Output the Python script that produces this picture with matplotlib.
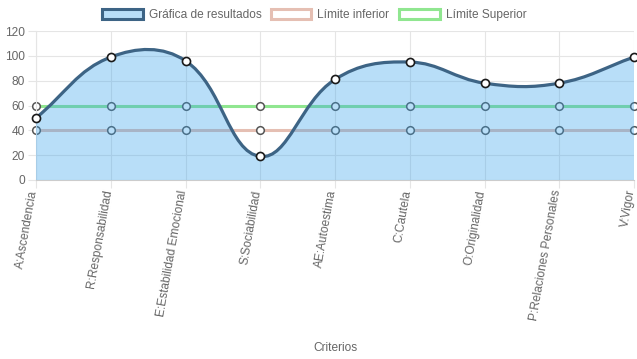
import matplotlib.pyplot as plt
import numpy as np
from matplotlib.path import Path
from matplotlib.patches import PathPatch, Patch
from matplotlib.transforms import ScaledTranslation

plt.rcParams['font.family'] = ['Liberation Sans', 'DejaVu Sans']

# Datos
criterios = ['A:Ascendencia', 'R:Responsabilidad', 'E:Estabilidad Emocional',
             'S:Sociabilidad', 'AE:Autoestima', 'C:Cautela', 'O:Originalidad',
             'P:Relaciones Personales', 'V:Vigor']
resultados = [50, 99, 96, 19, 81, 95, 78, 78, 99]
limite_inferior = [40, 40, 40, 40, 40, 40, 40, 40, 40]
limite_superior = [60, 60, 60, 60, 60, 60, 60, 60, 60]

main_color = '#3d6485'
fill_color = (54/255, 162/255, 235/255, 0.35)
inf_color = '#e5bfb3'
sup_color = '#90e690'
grid_color = '#e5e5e5'
text_color = '#666666'

W, H = 637, 359
fig = plt.figure(figsize=(W / 100, H / 100), dpi=100)
x0, x1, ytop, ybot = 36, 634, 31, 180
ax = fig.add_axes([x0 / W, 1 - ybot / H, (x1 - x0) / W, (ybot - ytop) / H])

n = len(criterios)
xs = np.arange(n)
ax.set_xlim(0, n - 1)
ax.set_ylim(0, 120)

# Curva tipo Chart.js (tension 0.4) calculada en pixeles
sx = (x1 - x0) / (n - 1)
sy = (ybot - ytop) / 120.0
px = xs * sx
py = np.array(resultados, dtype=float) * sy
t = 0.4
cp_prev, cp_next = [], []
for i in range(n):
    pi = max(i - 1, 0)
    ni = min(i + 1, n - 1)
    d01 = np.hypot(px[i] - px[pi], py[i] - py[pi])
    d12 = np.hypot(px[ni] - px[i], py[ni] - py[i])
    tot = d01 + d12
    s01 = d01 / tot if tot else 0
    s12 = d12 / tot if tot else 0
    fa, fb = t * s01, t * s12
    dx, dy = px[ni] - px[pi], py[ni] - py[pi]
    cp_prev.append((px[i] - fa * dx, min(max(py[i] - fa * dy, 0), 120 * sy)))
    cp_next.append((px[i] + fb * dx, min(max(py[i] + fb * dy, 0), 120 * sy)))

verts = [(px[0] / sx, py[0] / sy)]
codes = [Path.MOVETO]
for i in range(n - 1):
    c1 = cp_next[i]
    c2 = cp_prev[i + 1]
    verts += [(c1[0] / sx, c1[1] / sy), (c2[0] / sx, c2[1] / sy), (px[i + 1] / sx, py[i + 1] / sy)]
    codes += [Path.CURVE4] * 3
line_path = Path(verts, codes)
fill_path = Path(verts + [(n - 1, 0), (0, 0), (0, 0)],
                 codes + [Path.LINETO, Path.LINETO, Path.CLOSEPOLY])

# Limites (por debajo del relleno)
ax.plot(xs, limite_inferior, color=inf_color, lw=2.2, zorder=2, clip_on=False,
        marker='o', ms=5.5, mfc='white', mec='#555555', mew=1.1)
ax.plot(xs, limite_superior, color=sup_color, lw=2.2, zorder=2, clip_on=False,
        marker='o', ms=5.5, mfc='white', mec='#555555', mew=1.1)

ax.add_patch(PathPatch(fill_path, facecolor=fill_color, edgecolor='none', zorder=3))
ax.add_patch(PathPatch(line_path, facecolor='none', edgecolor=main_color, lw=2.3,
                       zorder=4, capstyle='round'))
ax.plot(xs, resultados, ls='none', marker='o', ms=5.8, mfc='white', mec='#1a1a1a',
        mew=1.2, zorder=5, clip_on=False)

# Ejes y rejilla
ax.set_yticks(range(0, 121, 20))
ax.set_xticks(xs)
ax.set_xticklabels([])
off = ScaledTranslation(-2.5 / 100, -10 / 100, fig.dpi_scale_trans)
for i, lab in enumerate(criterios):
    ax.text(i, 0, lab, transform=ax.get_xaxis_transform() + off, rotation=80,
            rotation_mode='anchor', ha='right', va='center', fontsize=8.6,
            color=text_color)
ax.grid(True, color=grid_color, lw=0.8, zorder=0)
ax.set_axisbelow(True)
for s in ['top', 'right']:
    ax.spines[s].set_visible(False)
ax.spines['left'].set_color(grid_color)
ax.spines['bottom'].set_color('#cccccc')
ax.tick_params(axis='both', length=6, color=grid_color, labelcolor=text_color,
               labelsize=8.6, pad=2)
ax.set_xlabel('Criterios', color=text_color, fontsize=8.6, labelpad=0)
ax.xaxis.set_label_coords(0.5, -1.09)

# Leyenda
handles = [
    Patch(facecolor=fill_color, edgecolor=main_color, lw=2.2, label='Gráfica de resultados'),
    Patch(facecolor='white', edgecolor=inf_color, lw=2.2, label='Límite inferior'),
    Patch(facecolor='white', edgecolor=sup_color, lw=2.2, label='Límite Superior'),
]
leg = fig.legend(handles=handles, loc='center', bbox_to_anchor=(0.493, 1 - 15 / H), ncol=3,
                 frameon=False, fontsize=8.6, handlelength=3.4, handleheight=1.0,
                 handletextpad=0.5, columnspacing=0.8, labelcolor=text_color)

plt.savefig('out.png', dpi=100)
plt.close()
